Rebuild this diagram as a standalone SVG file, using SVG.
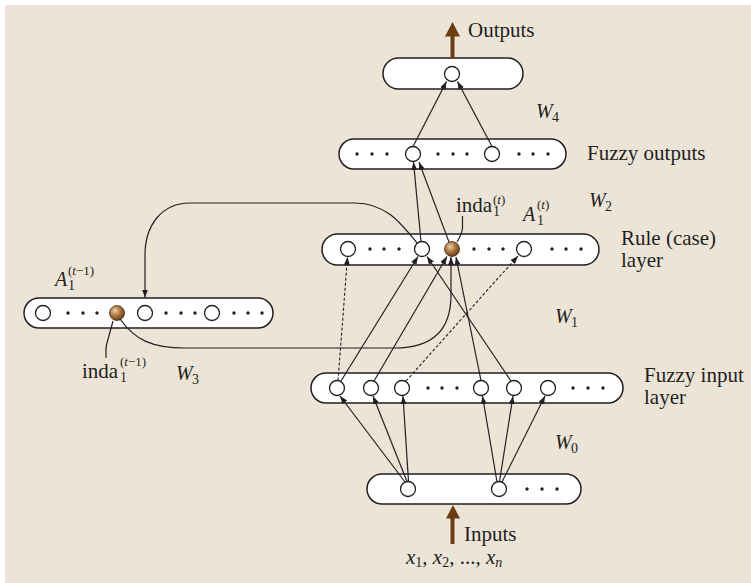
<svg xmlns="http://www.w3.org/2000/svg" width="751" height="583" viewBox="0 0 751 583">
<defs>
<style>
.pill{fill:#fff;stroke:#231F20;stroke-width:1.5}
.nd{fill:#fff;stroke:#231F20;stroke-width:1.3}
.dot{fill:#231F20}
.ln{fill:none;stroke:#231F20;stroke-width:1.2}
.ds{fill:none;stroke:#231F20;stroke-width:1.1;stroke-dasharray:3 2}
.t{font-family:"Liberation Serif","Times New Roman",serif;font-size:21px;fill:#231F20}
.it{font-family:"Liberation Serif","Times New Roman",serif;font-size:20px;font-style:italic;fill:#231F20}
.sub{font-family:"Liberation Serif","Times New Roman",serif;font-size:14px;fill:#231F20}
.sup{font-family:"Liberation Serif","Times New Roman",serif;font-size:13px;fill:#231F20}
.brown{fill:#6B3D10}
.ball{fill:url(#bg);stroke:#4A2E10;stroke-width:0.8}
</style>
<radialGradient id="bg" cx="0.38" cy="0.35" r="0.65">
<stop offset="0" stop-color="#EAD0A8"/>
<stop offset="0.5" stop-color="#B07A45"/>
<stop offset="1" stop-color="#6A4218"/>
</radialGradient>
<marker id="ah" markerUnits="userSpaceOnUse" markerWidth="9" markerHeight="7" refX="8" refY="3" orient="auto">
<path d="M0,0 L8,3 L0,6 z" fill="#231F20"/>
</marker>
</defs>
<rect x="5" y="5" width="746" height="578" fill="#EDE4D8"/>

<g id="output-layer">
<rect class="pill" x="383" y="58" width="140" height="31" rx="15.5"/>
<circle class="nd" cx="452" cy="74" r="7.5"/>
<rect class="brown" x="450.5" y="35" width="4" height="23"/>
<polygon class="brown" points="445,36.5 460,36.5 452.5,22"/>
<text class="t" x="468" y="37">Outputs</text>
</g>

<g id="fuzzy-outputs">
<rect class="pill" x="339" y="139" width="227" height="30" rx="15"/>
<circle class="dot" cx="357" cy="154" r="1.7"/><circle class="dot" cx="372" cy="154" r="1.7"/><circle class="dot" cx="387" cy="154" r="1.7"/>
<circle class="nd" cx="413" cy="154" r="7.5"/>
<circle class="dot" cx="438" cy="154" r="1.7"/><circle class="dot" cx="453" cy="154" r="1.7"/><circle class="dot" cx="467" cy="154" r="1.7"/>
<circle class="nd" cx="492" cy="154" r="7.5"/>
<circle class="dot" cx="519" cy="154" r="1.7"/><circle class="dot" cx="533" cy="154" r="1.7"/><circle class="dot" cx="548" cy="154" r="1.7"/>
<text class="t" x="587" y="160">Fuzzy outputs</text>
</g>

<g id="rule-layer">
<rect class="pill" x="322" y="234" width="277" height="31" rx="15.5"/>
<circle class="nd" cx="348" cy="249" r="7.5"/>
<circle class="dot" cx="370" cy="249" r="1.7"/><circle class="dot" cx="384" cy="249" r="1.7"/><circle class="dot" cx="399" cy="249" r="1.7"/>
<circle class="nd" cx="422" cy="249" r="7.5"/>
<circle class="ball" cx="452" cy="249" r="7.5"/>
<circle class="dot" cx="474" cy="249" r="1.7"/><circle class="dot" cx="489" cy="249" r="1.7"/><circle class="dot" cx="503" cy="249" r="1.7"/>
<circle class="nd" cx="524" cy="249" r="7.5"/>
<circle class="dot" cx="552" cy="249" r="1.7"/><circle class="dot" cx="566" cy="249" r="1.7"/><circle class="dot" cx="581" cy="249" r="1.7"/>
<text class="t" x="621" y="245">Rule (case)</text>
<text class="t" x="621" y="267">layer</text>
<text class="t" x="456" y="212">inda</text>
<text class="sub" x="493" y="216">1</text>
<text class="sup" x="493" y="204">(<tspan font-style="italic">t</tspan>)</text>
<text class="it" x="523" y="221">A</text>
<text class="sub" x="537" y="225">1</text>
<text class="sup" x="537" y="209">(<tspan font-style="italic">t</tspan>)</text>
</g>

<g id="previous-layer">
<rect class="pill" x="24" y="298" width="249" height="30" rx="15"/>
<circle class="nd" cx="43" cy="313" r="7.5"/>
<circle class="dot" cx="68" cy="313" r="1.7"/><circle class="dot" cx="83" cy="313" r="1.7"/><circle class="dot" cx="97" cy="313" r="1.7"/>
<circle class="ball" cx="117" cy="313" r="7.5"/>
<circle class="nd" cx="145" cy="313" r="7.5"/>
<circle class="dot" cx="166" cy="313" r="1.7"/><circle class="dot" cx="181" cy="313" r="1.7"/><circle class="dot" cx="195" cy="313" r="1.7"/>
<circle class="nd" cx="212" cy="313" r="7.5"/>
<circle class="dot" cx="234" cy="313" r="1.7"/><circle class="dot" cx="248" cy="313" r="1.7"/><circle class="dot" cx="262" cy="313" r="1.7"/>
<text class="it" x="55" y="286">A</text>
<text class="sub" x="68" y="290">1</text>
<text class="sup" x="68" y="275">(<tspan font-style="italic">t</tspan>−1)</text>
<text class="t" x="82" y="378">inda</text>
<text class="sub" x="120" y="382">1</text>
<text class="sup" x="120" y="366">(<tspan font-style="italic">t</tspan>−1)</text>
</g>

<g id="fuzzy-input-layer">
<rect class="pill" x="311" y="373" width="312" height="30" rx="15"/>
<circle class="nd" cx="337" cy="388" r="7.5"/>
<circle class="nd" cx="371" cy="388" r="7.5"/>
<circle class="nd" cx="402" cy="388" r="7.5"/>
<circle class="dot" cx="428" cy="388" r="1.7"/><circle class="dot" cx="442" cy="388" r="1.7"/><circle class="dot" cx="457" cy="388" r="1.7"/>
<circle class="nd" cx="481" cy="388" r="7.5"/>
<circle class="nd" cx="514" cy="388" r="7.5"/>
<circle class="nd" cx="548" cy="388" r="7.5"/>
<circle class="dot" cx="573" cy="388" r="1.7"/><circle class="dot" cx="588" cy="388" r="1.7"/><circle class="dot" cx="603" cy="388" r="1.7"/>
<text class="t" x="644" y="382">Fuzzy input</text>
<text class="t" x="644" y="404">layer</text>
</g>

<g id="input-layer">
<rect class="pill" x="367" y="474" width="214" height="30" rx="15"/>
<circle class="nd" cx="408" cy="489" r="7.5"/>
<circle class="nd" cx="499" cy="489" r="7.5"/>
<circle class="dot" cx="527" cy="489" r="1.7"/><circle class="dot" cx="542" cy="489" r="1.7"/><circle class="dot" cx="557" cy="489" r="1.7"/>
<rect class="brown" x="450.5" y="517" width="4" height="27"/>
<polygon class="brown" points="446,518.5 460,518.5 453,505"/>
<text class="t" x="464" y="541">Inputs</text>
<text class="t" x="406" y="564"><tspan font-style="italic">x</tspan><tspan font-size="14" dy="3">1</tspan><tspan dy="-3">, </tspan><tspan font-style="italic">x</tspan><tspan font-size="14" dy="3">2</tspan><tspan dy="-3">, ..., </tspan><tspan font-style="italic">x</tspan><tspan font-size="14" font-style="italic" dy="3">n</tspan></text>
</g>

<g id="weights">
<text class="it" x="536" y="118">W</text><text class="sub" x="552" y="122">4</text>
<text class="it" x="589" y="207">W</text><text class="sub" x="605" y="211">2</text>
<text class="it" x="555" y="323">W</text><text class="sub" x="571" y="327">1</text>
<text class="it" x="555" y="449">W</text><text class="sub" x="571" y="453">0</text>
<text class="it" x="176" y="380">W</text><text class="sub" x="192" y="384">3</text>
</g>

<g id="connectors">
<line class="ln" x1="413" y1="146.5" x2="446.5" y2="81.5" marker-end="url(#ah)"/>
<line class="ln" x1="492" y1="146.5" x2="457.5" y2="81.5" marker-end="url(#ah)"/>
<line class="ln" x1="421" y1="241.5" x2="413.5" y2="162" marker-end="url(#ah)"/>
<line class="ln" x1="449" y1="242" x2="419" y2="162" marker-end="url(#ah)"/>
<line class="ds" x1="338" y1="380.5" x2="347.5" y2="257" marker-end="url(#ah)"/>
<line class="ln" x1="341" y1="381" x2="418" y2="256.5" marker-end="url(#ah)"/>
<line class="ln" x1="374" y1="381" x2="447" y2="256.5" marker-end="url(#ah)"/>
<line class="ds" x1="406" y1="381" x2="518" y2="256" marker-end="url(#ah)"/>
<line class="ln" x1="481" y1="380.5" x2="456" y2="257" marker-end="url(#ah)"/>
<line class="ln" x1="511" y1="381" x2="427" y2="256.5" marker-end="url(#ah)"/>
<line class="ln" x1="405" y1="482" x2="340" y2="396" marker-end="url(#ah)"/>
<line class="ln" x1="407" y1="481.5" x2="373" y2="396" marker-end="url(#ah)"/>
<line class="ln" x1="408.5" y1="481.5" x2="403" y2="396" marker-end="url(#ah)"/>
<line class="ln" x1="497" y1="482" x2="482.5" y2="396" marker-end="url(#ah)"/>
<line class="ln" x1="499.5" y1="481.5" x2="513" y2="396" marker-end="url(#ah)"/>
<line class="ln" x1="502" y1="482" x2="545" y2="396" marker-end="url(#ah)"/>
<path class="ln" d="M417,243 C400,222 385,203 355,203 L190,203 C162,203 145,225 145,255 L145,297.5" marker-end="url(#ah)"/>
<path class="ln" d="M120,319 C135,340 152,348 185,348 L395,348 C432,348 451,330 451,295 L451,257" marker-end="url(#ah)"/>
<path class="ln" d="M462.5,216 L462.5,228 Q462,234 457,242"/>
<path class="ln" d="M113,321 L107,343 Q106,346 106,349 L106,358"/>
</g>
</svg>
